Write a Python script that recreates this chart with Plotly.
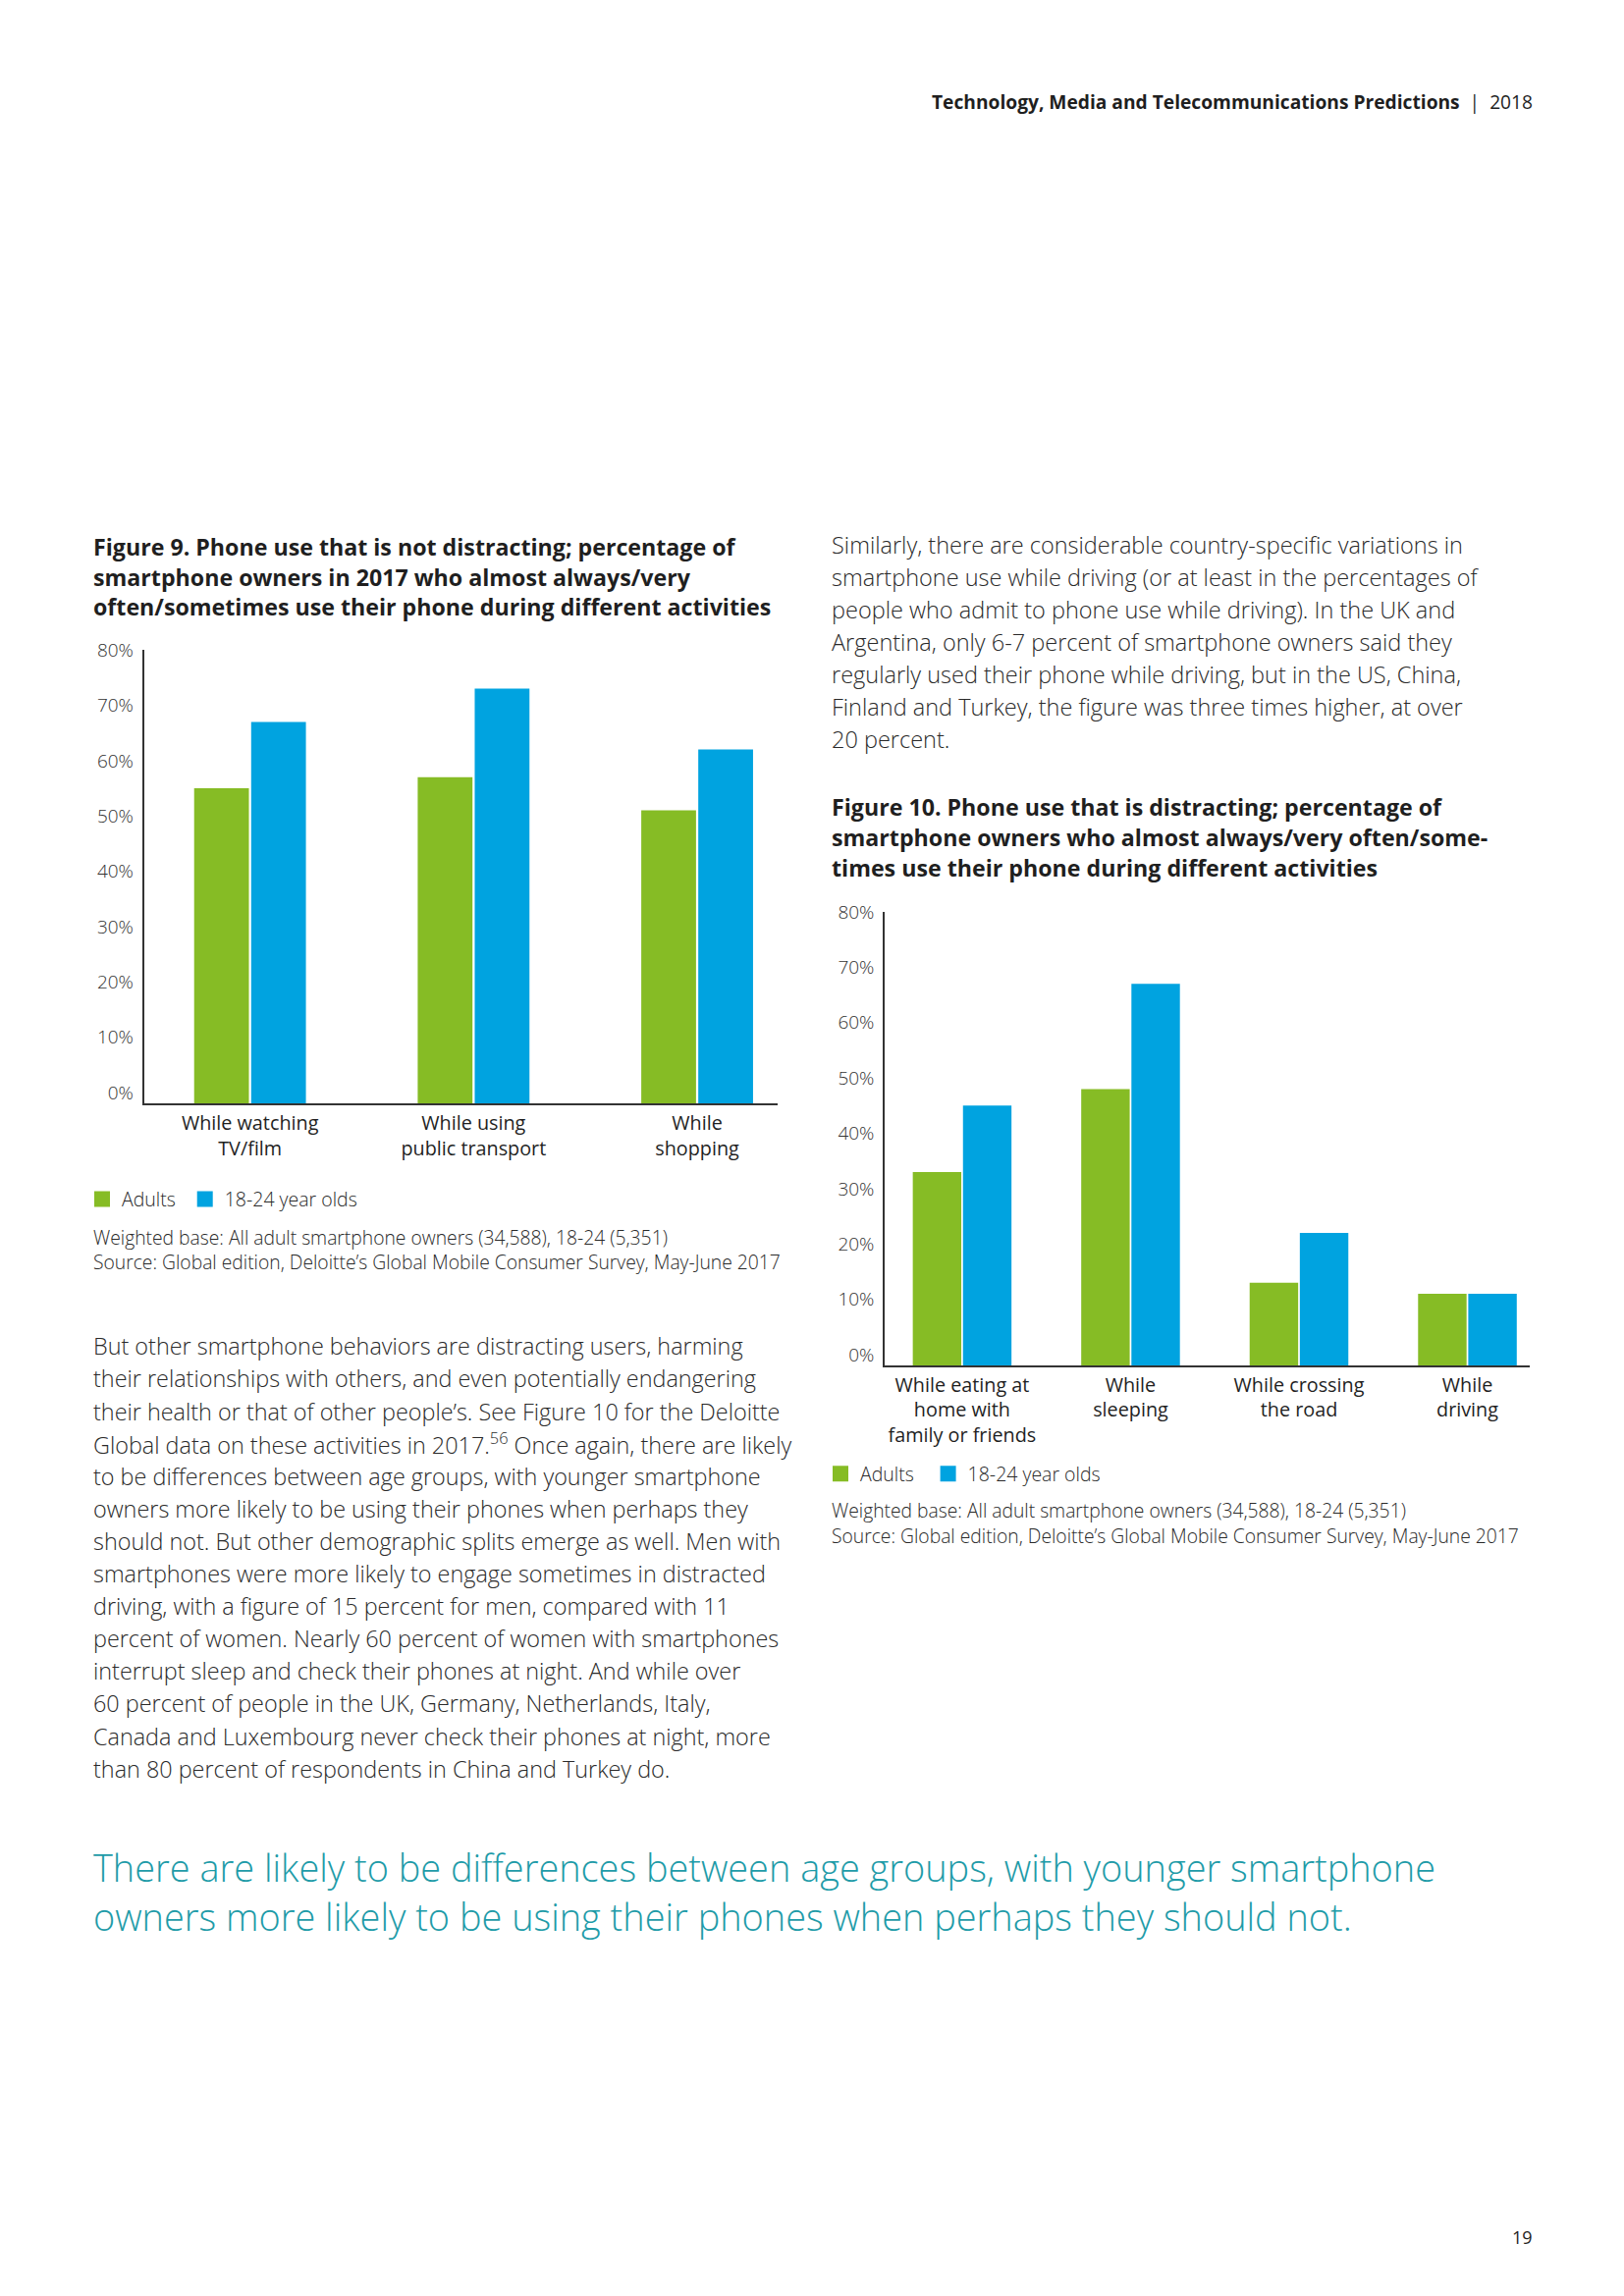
import plotly.graph_objects as go

W, H = 1654, 2339

# ---------------- data ----------------
fig9_categories = ["While watching<br>TV/film", "While using<br>public transport", "While<br>shopping"]
fig9_adults = [55, 57, 51]
fig9_young = [67, 73, 62]

fig10_categories = ["While eating at<br>home with<br>family or friends", "While<br>sleeping",
                    "While crossing<br>the road", "While<br>driving"]
fig10_adults = [33, 48, 13, 11]
fig10_young = [45, 67, 22, 11]

series_names = ["Adults", "18-24 year olds"]
y_ticks = [0, 10, 20, 30, 40, 50, 60, 70, 80]
y_ticktext = [f"{t}%" for t in y_ticks]

GREEN = "#86BC25"
BLUE = "#00A3E0"
TEXT = "#1f1f1f"
BODY = "#2a2a2a"
TEAL = "#1E9BA8"
FONT = "Open Sans"
Y_MIN = -2  # axis line sits slightly below the 0% gridline, as in the source

fig = go.Figure()

def add_pair(cats, a, b, xa, ya, leg, w, pad):
    fig.add_trace(go.Bar(x=cats, y=[v - Y_MIN for v in a], base=Y_MIN, name=series_names[0],
                         width=w, offset=-w - 0.005, showlegend=False,
                         marker=dict(color=GREEN, line=dict(width=0)),
                         xaxis=xa, yaxis=ya))
    fig.add_trace(go.Bar(x=cats, y=[v - Y_MIN for v in b], base=Y_MIN, name=series_names[1],
                         width=w, offset=0.005, showlegend=False,
                         marker=dict(color=BLUE, line=dict(width=0)),
                         xaxis=xa, yaxis=ya))
    # legend entries (square swatches like the source)
    for name, col in zip([series_names[0] + pad, series_names[1]], [GREEN, BLUE]):
        fig.add_trace(go.Scatter(x=[None], y=[None], mode="markers", name=name,
                                 marker=dict(symbol="square", size=16, color=col),
                                 xaxis=xa, yaxis=ya, legend=leg, hoverinfo="skip"))

add_pair(fig9_categories, fig9_adults, fig9_young, "x", "y", "legend", 0.245, "\u2005")
add_pair(fig10_categories, fig10_adults, fig10_young, "x2", "y2", "legend2", 0.288, "\u2002")

def px_x(x):
    return x / W

def px_y(y):
    return 1 - y / H

axis_common_y = dict(range=[Y_MIN, 80], tickvals=y_ticks, ticktext=y_ticktext,
                     showgrid=False, zeroline=False, showline=True, linecolor="#333",
                     linewidth=1.5, ticks="outside", tickcolor="rgba(0,0,0,0)", ticklen=5,
                     tickfont=dict(family=FONT, size=19, color="#333", weight=300),
                     fixedrange=True)
axis_common_x = dict(showgrid=False, zeroline=False, showline=True, linecolor="#333",
                     linewidth=1.5, ticks="outside", tickcolor="rgba(0,0,0,0)", ticklen=1,
                     tickfont=dict(family=FONT, size=19.8, color=TEXT), tickangle=0,
                     fixedrange=True)

legend_common = dict(orientation="h", xanchor="left", yanchor="middle",
                     font=dict(family=FONT, size=19.5, color=BODY, weight=300),
                     bgcolor="rgba(0,0,0,0)")

fig.update_layout(
    width=W, height=H,
    margin=dict(l=0, r=0, t=0, b=0),
    paper_bgcolor="white", plot_bgcolor="white",
    barmode="overlay",
    xaxis=dict(domain=[px_x(138.5), px_x(784)], anchor="y", range=[-0.475, 2.36], **axis_common_x),
    yaxis=dict(domain=[px_y(1110), px_y(645)], anchor="x", **axis_common_y),
    xaxis2=dict(domain=[px_x(893), px_x(1550)], anchor="y2", range=[-0.46, 3.37], **axis_common_x),
    yaxis2=dict(domain=[px_y(1378.5), px_y(913.5)], anchor="x2", **axis_common_y),
    legend=dict(x=px_x(76), y=px_y(1208), **legend_common),
    legend2=dict(x=px_x(828), y=px_y(1489.5), **legend_common),
    font=dict(family=FONT, color=TEXT),
)

annotations = []

def text_lines(lines, x, y0, spacing, size, weight=300, color=BODY, xanchor="left"):
    for i, line in enumerate(lines):
        annotations.append(dict(text=line, x=px_x(x), y=px_y(y0 + i * spacing),
                                xref="paper", yref="paper", xanchor=xanchor, yanchor="middle",
                                showarrow=False, align=xanchor,
                                font=dict(family=FONT, size=size, color=color, weight=weight)))

LX = 85    # left column x
RX = 837   # right column x

# header
annotations.append(dict(text="<b>Technology, Media and Telecommunications Predictions</b>  |  2018",
                        x=px_x(1554.5), y=px_y(83), xref="paper", yref="paper", xanchor="right",
                        yanchor="middle", showarrow=False,
                        font=dict(family=FONT, size=19.2, color=TEXT, weight=400)))

# figure titles
text_lines(["Figure 9. Phone use that is not distracting; percentage of",
            "smartphone owners in 2017 who almost always/very",
            "often/sometimes use their phone during different activities"],
           LX, 539, 31, 23.2, weight=700, color=TEXT)
text_lines(["Figure 10. Phone use that is distracting; percentage of",
            "smartphone owners who almost always/very often/some-",
            "times use their phone during different activities"],
           RX, 806, 31, 23.2, weight=700, color=TEXT)

notes = ["Weighted base: All adult smartphone owners (34,588), 18-24 (5,351)",
         "Source: Global edition, Deloitte\u2019s Global Mobile Consumer Survey, May-June 2017"]
text_lines(notes, LX, 1246.5, 26, 19.3)
text_lines(notes, RX, 1527, 26, 19.3)

# right column text
text_lines(["Similarly, there are considerable country-specific variations in",
            "smartphone use while driving (or at least in the percentages of",
            "people who admit to phone use while driving). In the UK and",
            "Argentina, only 6-7 percent of smartphone owners said they",
            "regularly used their phone while driving, but in the US, China,",
            "Finland and Turkey, the figure was three times higher, at over",
            "20 percent."],
           RX, 537, 33.3, 23.5)

# left column body
text_lines(["But other smartphone behaviors are distracting users, harming",
            "their relationships with others, and even potentially endangering",
            "their health or that of other people\u2019s. See Figure 10 for the Deloitte",
            "Global data on these activities in 2017.<sup>56</sup> Once again, there are likely",
            "to be differences between age groups, with younger smartphone",
            "owners more likely to be using their phones when perhaps they",
            "should not. But other demographic splits emerge as well. Men with",
            "smartphones were more likely to engage sometimes in distracted",
            "driving, with a figure of 15 percent for men, compared with 11",
            "percent of women. Nearly 60 percent of women with smartphones",
            "interrupt sleep and check their phones at night. And while over",
            "60 percent of people in the UK, Germany, Netherlands, Italy,",
            "Canada and Luxembourg never check their phones at night, more",
            "than 80 percent of respondents in China and Turkey do."],
           LX, 1358.5, 33.3, 23.4)

# pull quote
text_lines(["There are likely to be differences between age groups, with younger smartphone",
            "owners more likely to be using their phones when perhaps they should not."],
           LX, 1892.5, 50, 37.9, color=TEAL)

# page number
annotations.append(dict(text="19", x=px_x(1554.5), y=px_y(2271.5), xref="paper", yref="paper",
                        xanchor="right", yanchor="middle", showarrow=False,
                        font=dict(family=FONT, size=18, color=TEXT)))

fig.update_layout(annotations=annotations)

fig.write_html("out.html")
